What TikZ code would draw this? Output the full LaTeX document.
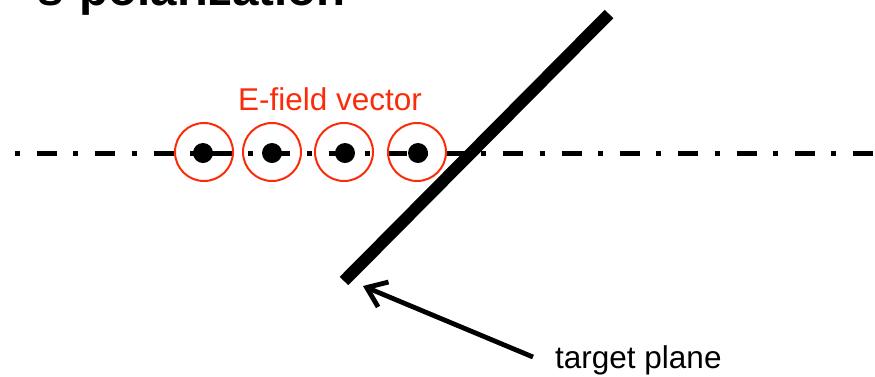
\documentclass[tikz,border=0pt]{standalone}
\usepackage{fontspec}
\setmainfont{Liberation Sans}
\usetikzlibrary{arrows.meta}
\definecolor{efield}{RGB}{250,45,10}
\begin{document}
\begin{tikzpicture}[x=1pt,y=-1pt,
  ring/.style={circle,draw=efield,line width=2pt,minimum size=58pt,inner sep=0pt},
  dotnode/.style={circle,fill=black,minimum size=20pt,inner sep=0pt},
  axisline/.style={line width=5pt,dash pattern=on 5pt off 17pt on 20pt off 16.3pt},
  planeline/.style={line width=12pt},
  pointer/.style={line width=4.8pt,-{Straight Barb[length=18pt,width=27pt]}},
  lbl/.style={anchor=base west,inner sep=0pt,font=\fontsize{31.5}{34}\selectfont}]
\useasboundingbox (0,0) rectangle (875,376);
\clip (0,0) rectangle (875,376);
\node[anchor=base west,inner sep=0pt,font=\fontsize{47.5}{50}\selectfont\bfseries] (title) at (37,5) {s-polarization};
\coordinate (axL) at (-43.3,153);
\coordinate (axR) at (900,153);
\draw[axisline] (axL) -- (axR);
\foreach \i/\x/\d in {1/204/203,2/272/272,3/344/345,4/417/418}{
  \node[ring] (ring\i) at (\x,152) {};
  \node[dotnode] (dot\i) at (\d,153) {};
}
\node[lbl,text=efield] (elabel) at (238,110) {E-field vector};
\coordinate (pb) at (344,281);
\coordinate (pt) at (609,14);
\draw[planeline] (pb) -- (pt);
\node[lbl] (tlabel) at (555,368) {target plane};
\coordinate (tail) at (533,357);
\coordinate (tip) at (363,286);
\draw[pointer] (tail) -- (tip);
\end{tikzpicture}
\end{document}
